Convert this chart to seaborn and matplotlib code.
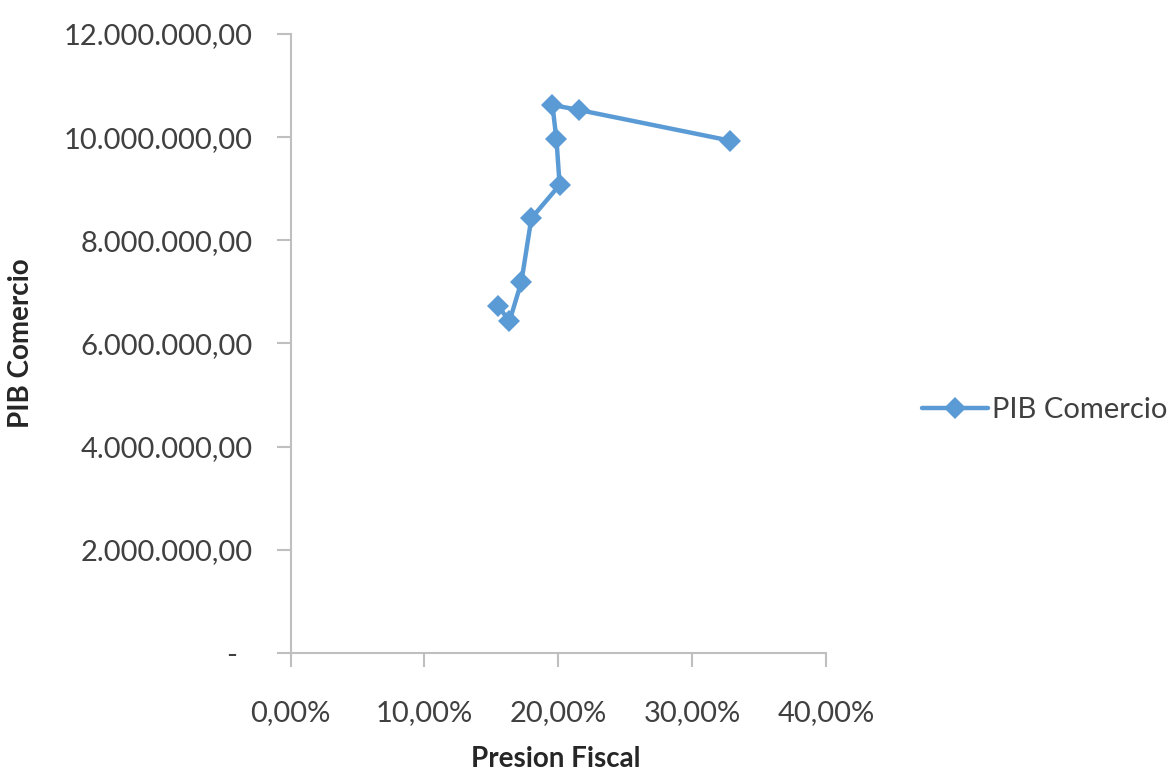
import matplotlib
matplotlib.use("Agg")
import matplotlib.pyplot as plt
import matplotlib.ticker as mticker
import seaborn as sns
import pandas as pd

presion_fiscal = [0.1552, 0.1635, 0.1724, 0.1799, 0.2010, 0.1986, 0.1956, 0.2154, 0.3284]
pib_comercio = [6727000, 6429000, 7193000, 8428000, 9073000, 9959000, 10624000, 10527000, 9932000]
series_name = "PIB Comercio"
x_title = "Presion Fiscal"
y_title = "PIB Comercio"

df = pd.DataFrame({"x": presion_fiscal, "y": pib_comercio, "s": series_name})

sns.set_theme(style="white")
plt.rcParams["font.family"] = ["Lato", "DejaVu Sans"]

fig = plt.figure(figsize=(11.73, 7.73), dpi=100)
ax = fig.add_axes([290.6 / 1173, 1 - 653 / 773, (826 - 290.6) / 1173, (653 - 34) / 773])

blue = "#5B9BD5"
sns.lineplot(data=df, x="x", y="y", hue="s", palette=[blue], sort=False, marker="D",
             markersize=11, markeredgewidth=0, linewidth=3.2, ax=ax, estimator=None)

ax.set_xlim(0, 0.40)
ax.set_ylim(0, 12000000)
ax.xaxis.set_major_locator(mticker.MultipleLocator(0.10))
ax.yaxis.set_major_locator(mticker.MultipleLocator(2000000))

def xfmt(v, pos):
    return f"{v*100:.2f}%".replace(".", ",")

def yfmt(v, pos):
    if abs(v) < 1:
        return "-  "
    s = f"{v:,.2f}"
    return s.replace(",", "X").replace(".", ",").replace("X", ".")

ax.xaxis.set_major_formatter(mticker.FuncFormatter(xfmt))
ax.yaxis.set_major_formatter(mticker.FuncFormatter(yfmt))

grey = "#bfbfbf"
for side in ["top", "right"]:
    ax.spines[side].set_visible(False)
for side in ["left", "bottom"]:
    ax.spines[side].set_color(grey)
    ax.spines[side].set_linewidth(1.5)
ax.tick_params(axis="both", which="major", direction="out", length=10, width=1.5,
               color=grey, labelcolor="#404040", labelsize=21, bottom=True, left=True)
ax.tick_params(axis="y", pad=17)
ax.tick_params(axis="x", pad=24)

ax.set_xlabel(x_title, fontsize=20, fontweight="bold", color="#262626")
ax.set_ylabel(y_title, fontsize=20, fontweight="bold", color="#262626")
ax.yaxis.set_label_coords((34 - 290.6) / 535.4, 0.5)
ax.xaxis.set_label_coords(0.495, (653 - 746) / 619)

leg = ax.legend(loc="center left", bbox_to_anchor=(922 / 1173, 1 - 410 / 773),
                bbox_transform=fig.transFigure, frameon=False, fontsize=21,
                handlelength=2.25, handletextpad=0.15, borderpad=0, borderaxespad=0)
for t in leg.get_texts():
    t.set_color("#404040")

fig.savefig("out.png", dpi=100)
